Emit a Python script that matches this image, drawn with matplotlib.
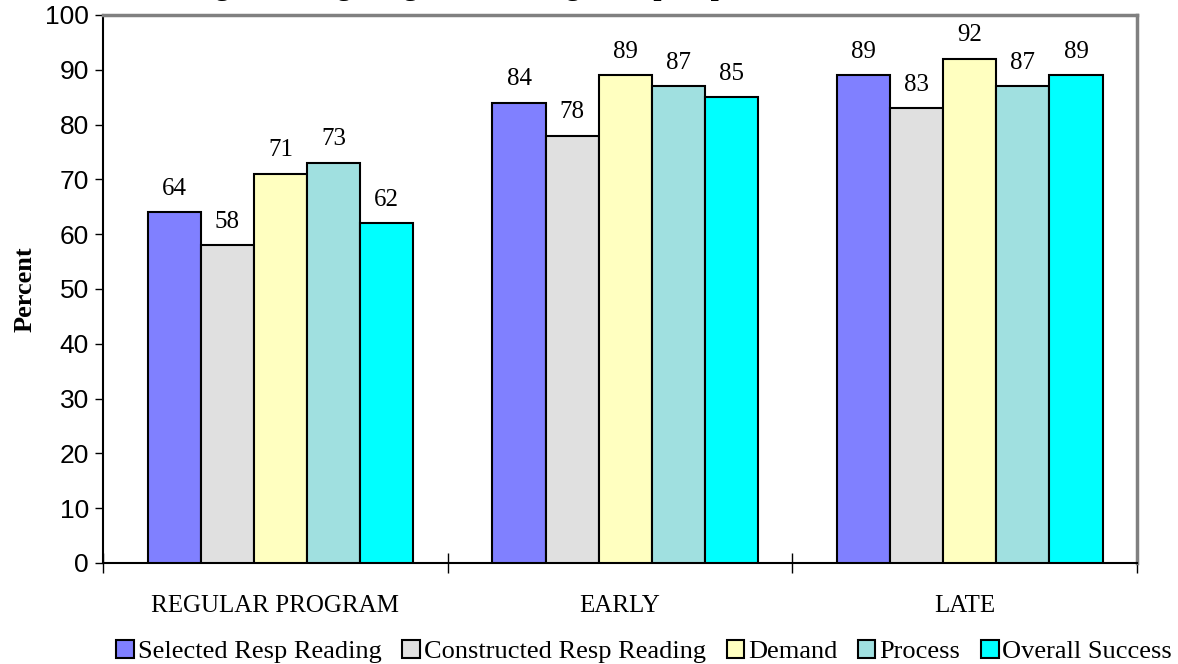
import numpy as np
import matplotlib
matplotlib.use('Agg')
import matplotlib.pyplot as plt
from matplotlib.patches import Patch

# program groups and the five measures
groups = ['REGULAR PROGRAM', 'EARLY', 'LATE']
series = ['Selected Resp Reading', 'Constructed Resp Reading', 'Demand',
          'Process', 'Overall Success']
selected = [64, 84, 89]
constructed = [58, 78, 83]
demand = [71, 89, 92]
process = [73, 87, 87]
overall = [62, 85, 89]
values = [selected, constructed, demand, process, overall]
colors = ['#8080FF', '#E0E0E0', '#FFFFC0', '#A0E0E0', '#00FFFF']

serif = 'Liberation Serif'
sans = 'Liberation Sans'

fig = plt.figure(figsize=(11.78, 6.64), dpi=100)
ax = fig.add_axes([103/1178, 1-563/664, (1137-103)/1178, (563-15)/664])

width = 0.154
x = np.arange(len(groups)) + 0.5
for i, (vals, col) in enumerate(zip(values, colors)):
    pos = x + (i - 2) * width + 0.015
    bars = ax.bar(pos, vals, width, color=col, edgecolor='black', linewidth=1.5, zorder=3)
    for b, v in zip(bars, vals):
        ax.annotate(str(v), (b.get_x() + b.get_width()/2, v), xytext=(0, 9),
                    textcoords='offset points', ha='center', va='bottom',
                    fontsize=18, family=serif)

ax.set_xlim(0, 3)
ax.set_ylim(0, 100)
ax.set_yticks(range(0, 101, 10))
ax.set_yticklabels([str(t) for t in range(0, 101, 10)], family=sans, fontsize=19)
ax.set_xticks([0, 1, 2, 3])
ax.set_xticklabels([])
ax.set_xticks(x, minor=True)
ax.set_xticklabels(groups, minor=True, family=serif, fontsize=18)
ax.tick_params(axis='x', which='minor', length=0, pad=23)
ax.tick_params(axis='x', which='major', direction='inout', length=14, width=1)
ax.tick_params(axis='y', direction='out', length=6, width=1, pad=4)

for s in ['top', 'right']:
    ax.spines[s].set_color('#808080')
    ax.spines[s].set_linewidth(2.5)
for s in ['left', 'bottom']:
    ax.spines[s].set_linewidth(1.5)

ax.set_ylabel('Percent', family=serif, fontsize=19, fontweight='bold', labelpad=6)

# title sits just above the canvas edge, only descenders show
fig.text(0.40, 1.008, 'Percentage Meeting Program Reading Group Expectations',
         ha='center', va='baseline', family=serif, fontsize=21, fontweight='bold')

handles = [Patch(facecolor=c, edgecolor='black', linewidth=1.5) for c in colors]
fig.legend(handles, series, loc='lower center', bbox_to_anchor=(0.547, -0.035),
           ncol=5, frameon=False, prop={'family': serif, 'size': 19},
           handlelength=0.65, handleheight=0.7, handletextpad=0.15, columnspacing=0.8)

fig.savefig('out.png', dpi=100)
